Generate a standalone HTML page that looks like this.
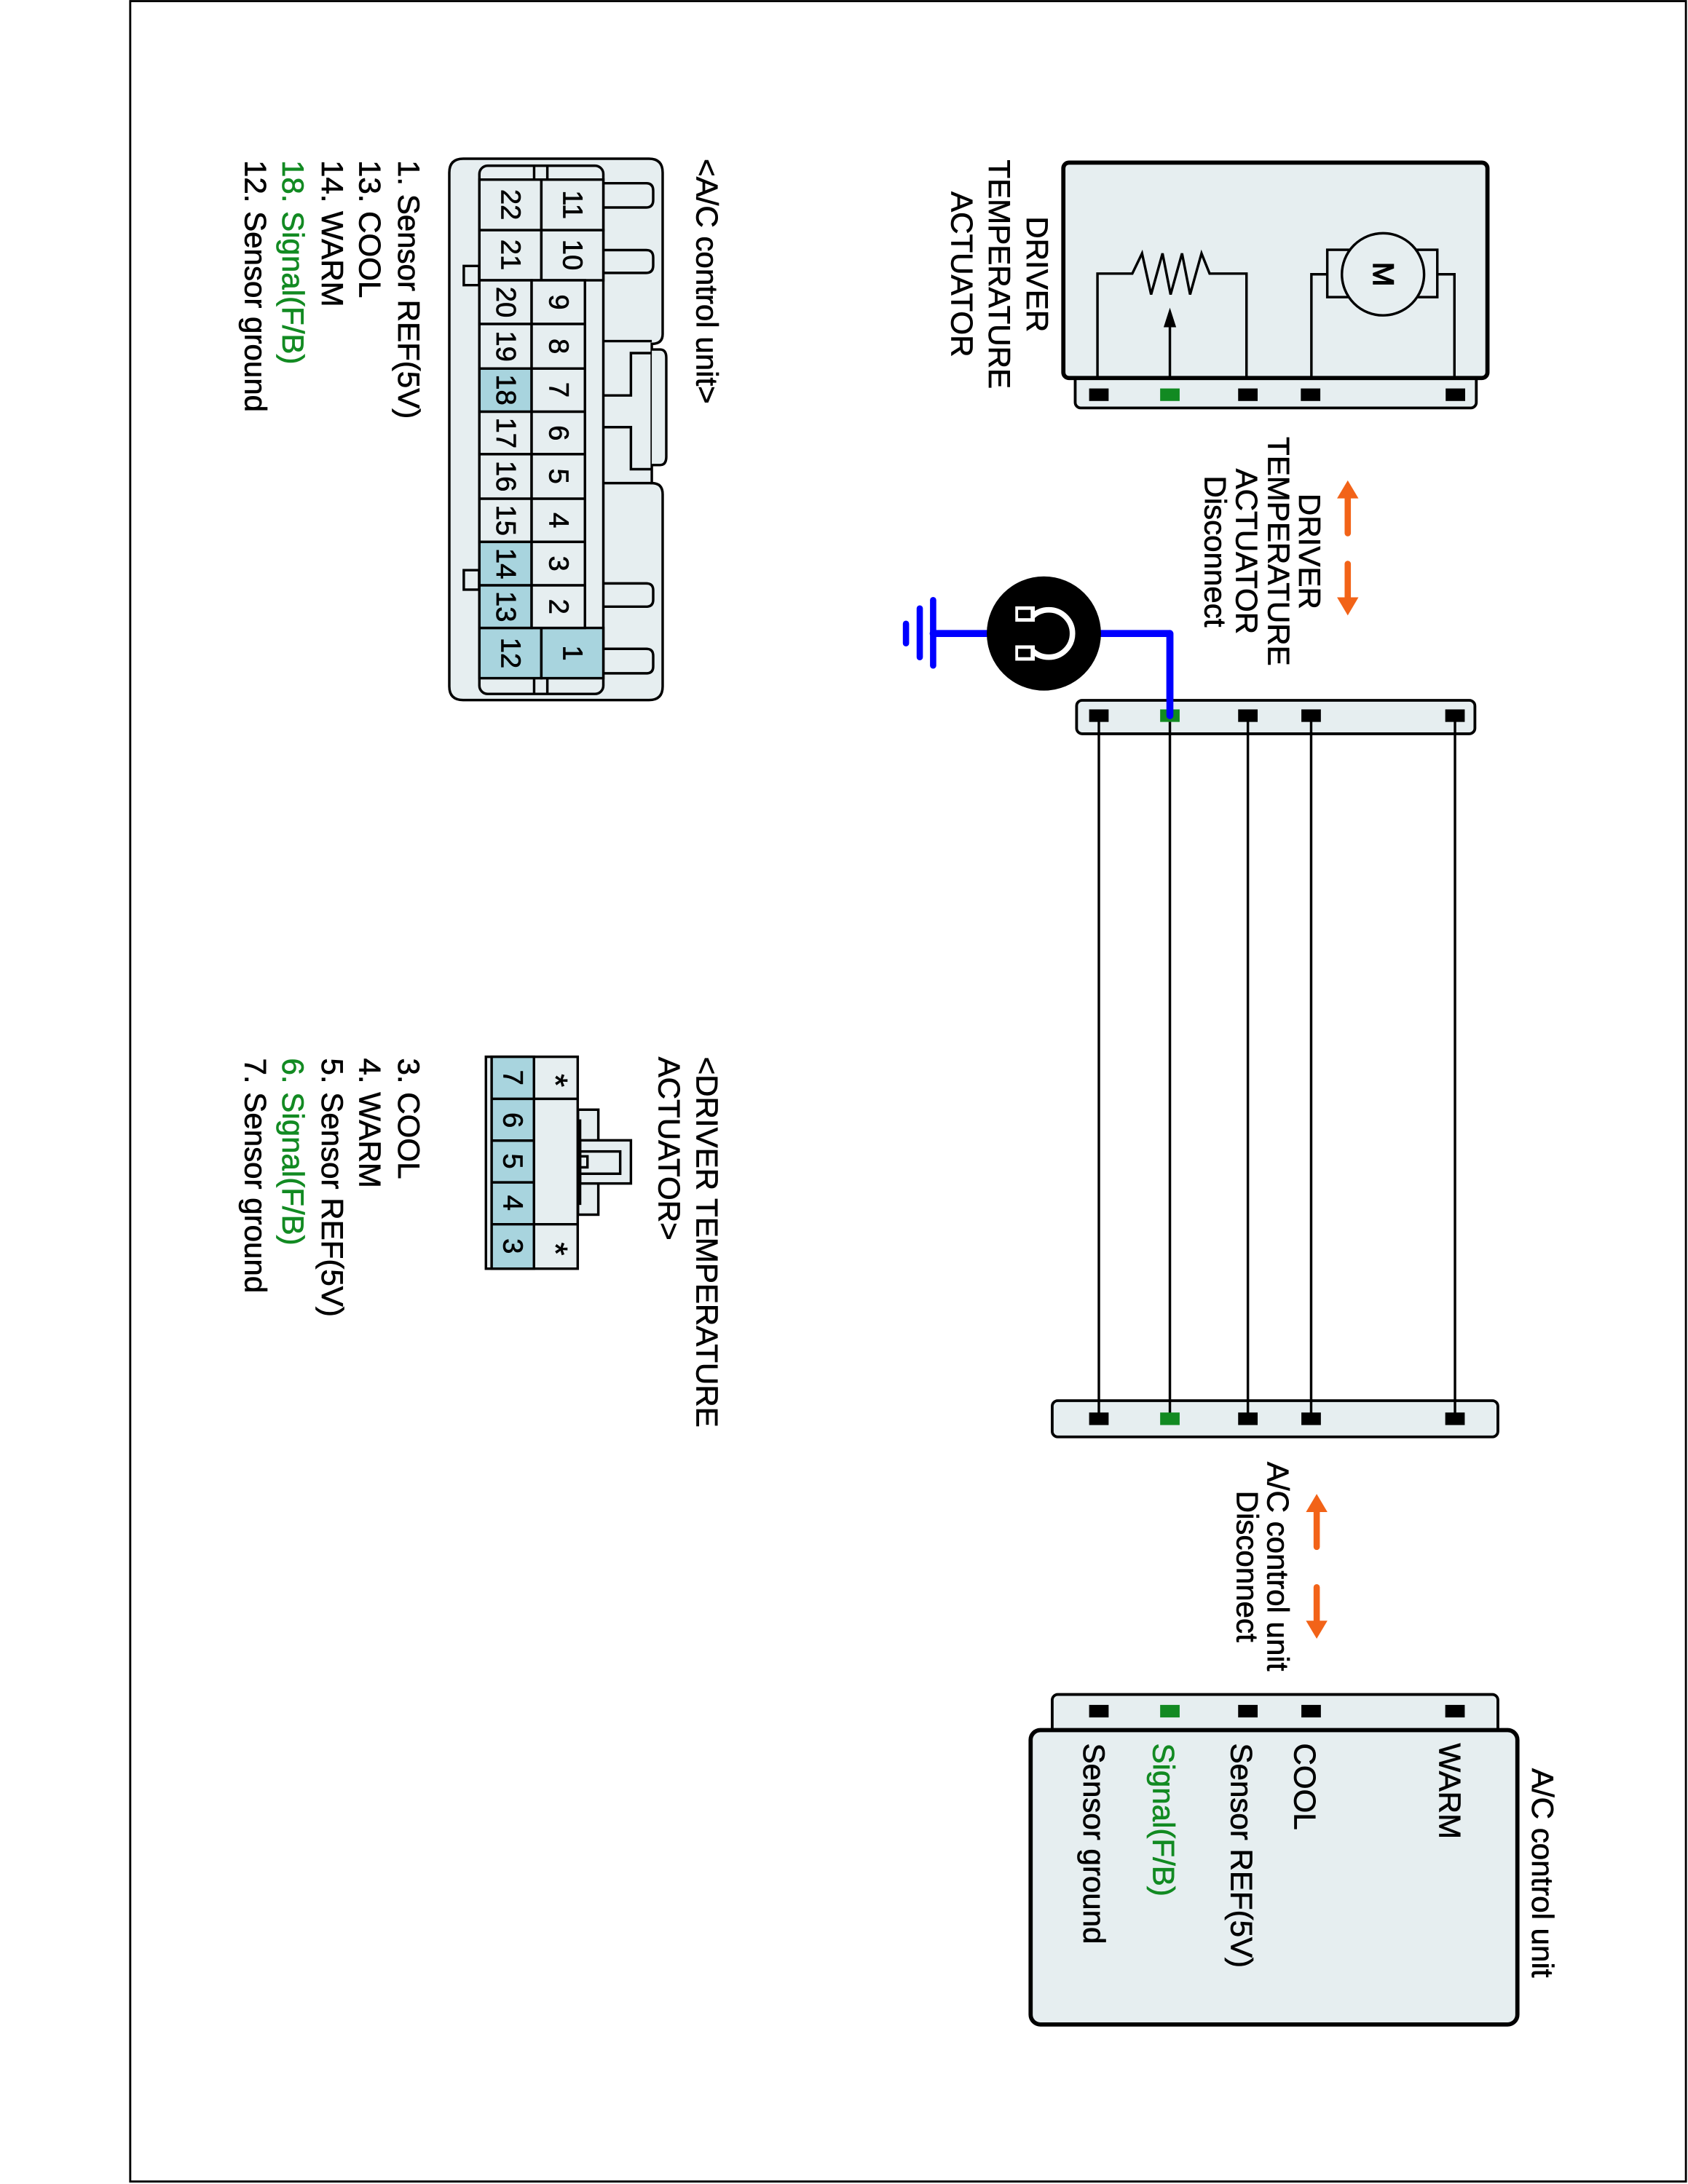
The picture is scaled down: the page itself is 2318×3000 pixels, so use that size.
<!DOCTYPE html>
<html><head><meta charset="utf-8"><style>
html,body{margin:0;padding:0;background:#fff}
svg{display:block}
text{font-family:"Liberation Sans",Arial,sans-serif;font-size:22px;fill:#000;stroke:#000;stroke-width:0.35}
.n{font-size:20px;text-anchor:middle;dominant-baseline:central}
.g{fill:#128a22;stroke:#128a22}
</style></head><body>
<svg width="2318" height="3000" viewBox="0 0 1212 1568.6" preserveAspectRatio="none" xmlns="http://www.w3.org/2000/svg">
<rect x="93.5" y="0.8" width="1117" height="1566" fill="#fff" stroke="#000" stroke-width="1.5"/>

<!-- DRIVER TEMPERATURE ACTUATOR component -->
<rect x="772" y="266" width="288" height="27" rx="4" fill="#e6eef0" stroke="#000" stroke-width="2"/>
<rect x="763.5" y="116.8" width="304.5" height="154.7" rx="4" fill="#e6eef0" stroke="#000" stroke-width="3"/>
<g fill="#000">
<rect x="782" y="279" width="14" height="9"/><rect x="833" y="279" width="14" height="9" fill="#128a22"/>
<rect x="889" y="279" width="14" height="9"/><rect x="934" y="279" width="14" height="9"/><rect x="1038" y="279" width="14" height="9"/>
</g>
<g fill="none" stroke="#000" stroke-width="1.8">
<polyline points="788,271 788,196.5 813,196.5 820,182 826.5,211.5 834.7,182 840.5,211.5 848.7,182 854.5,211.5 862.7,182 868.5,196.5 895,196.5 895,271"/>
<line x1="840" y1="271" x2="840" y2="232"/>
<polyline points="941.6,271 941.6,197 953,197"/>
<polyline points="1044.3,271 1044.3,197 1032,197"/>
<rect x="953" y="179.4" width="79" height="34" fill="#e6eef0"/>
<circle cx="993" cy="197" r="29.5" fill="#e6eef0"/>
</g>
<polygon points="840,221 835.5,235 844.5,235" fill="#000"/>
<text transform="translate(986,197) rotate(90)" text-anchor="middle" style="font-size:21px;stroke-width:0.8">M</text>
<text transform="translate(737.2,197) rotate(90)" text-anchor="middle">DRIVER</text>
<text transform="translate(710,197) rotate(90)" text-anchor="middle">TEMPERATURE</text>
<text transform="translate(683,197) rotate(90)" text-anchor="middle">ACTUATOR</text>

<!-- disconnect label 1 -->
<text transform="translate(932.7,396) rotate(90)" text-anchor="middle">DRIVER</text>
<text transform="translate(910.5,396) rotate(90)" text-anchor="middle">TEMPERATURE</text>
<text transform="translate(887.5,396) rotate(90)" text-anchor="middle">ACTUATOR</text>
<text transform="translate(865,396) rotate(90)" text-anchor="middle">Disconnect</text>
<g stroke="#f26318" stroke-width="4.5" stroke-linecap="round" fill="#f26318">
<line x1="967.7" y1="383" x2="967.7" y2="356"/><line x1="967.7" y1="405" x2="967.7" y2="432"/>
<line x1="945.4" y1="1111" x2="945.4" y2="1084"/><line x1="945.4" y1="1140" x2="945.4" y2="1167"/>
</g>
<g fill="#f26318">
<polygon points="967.7,345 960,358 975.4,358"/><polygon points="967.7,442 960,429 975.4,429"/>
<polygon points="945.4,1073 937.7,1086 953.1,1086"/><polygon points="945.4,1177 937.7,1164 953.1,1164"/>
</g>

<!-- ground / blue wire -->
<g stroke="#0000ff" stroke-linecap="round" fill="none">
<polyline points="790,455 840,455 840,514" stroke-width="5" stroke-linejoin="round"/>
<line x1="670" y1="455" x2="712" y2="455" stroke-width="5"/>
<line x1="670" y1="431" x2="670" y2="478" stroke-width="4.5"/>
<line x1="660.4" y1="437" x2="660.4" y2="472" stroke-width="4.5"/>
<line x1="650.5" y1="448" x2="650.5" y2="462" stroke-width="4.5"/>
</g>
<circle cx="749.5" cy="455" r="41" fill="#000"/>
<path d="M741,443 A17,17 0 1 1 741,467" fill="none" stroke="#fff" stroke-width="4"/>
<rect x="729" y="435.5" width="14" height="11" fill="#fff"/>
<rect x="729" y="463.5" width="14" height="11" fill="#fff"/>
<rect x="731" y="438" width="9" height="6" fill="#000"/>
<rect x="731" y="466" width="9" height="6" fill="#000"/>

<!-- middle connectors -->
<rect x="773" y="503" width="286" height="24" rx="4" fill="#e6eef0" stroke="#000" stroke-width="2"/>
<rect x="755.5" y="1006" width="320" height="26" rx="4" fill="#e6eef0" stroke="#000" stroke-width="2"/>
<g stroke="#000" stroke-width="1.8">
<line x1="789" y1="514" x2="789" y2="1019"/><line x1="896" y1="514" x2="896" y2="1019"/>
<line x1="941.4" y1="514" x2="941.4" y2="1019"/><line x1="1044.7" y1="514" x2="1044.7" y2="1019"/>
<line x1="840" y1="514" x2="840" y2="1019"/>
</g>
<g fill="#000">
<rect x="782" y="509.5" width="14" height="9"/><rect x="889" y="509.5" width="14" height="9"/><rect x="934.4" y="509.5" width="14" height="9"/><rect x="1037.7" y="509.5" width="14" height="9"/>
<rect x="833" y="509.5" width="14" height="9" fill="#128a22"/>
<rect x="782" y="1014.5" width="14" height="9"/><rect x="889" y="1014.5" width="14" height="9"/><rect x="934.4" y="1014.5" width="14" height="9"/><rect x="1037.7" y="1014.5" width="14" height="9"/>
<rect x="833" y="1014.5" width="14" height="9" fill="#128a22"/>
</g>
<line x1="840" y1="455" x2="840" y2="514" stroke="#0000ff" stroke-width="5" stroke-linecap="round"/>

<text transform="translate(910,1125) rotate(90)" text-anchor="middle">A/C control unit</text>
<text transform="translate(888,1125) rotate(90)" text-anchor="middle">Disconnect</text>

<!-- A/C control unit -->
<rect x="755.5" y="1217" width="320" height="40" rx="4" fill="#e6eef0" stroke="#000" stroke-width="2"/>
<g fill="#000">
<rect x="782" y="1224.5" width="14" height="9"/><rect x="889" y="1224.5" width="14" height="9"/><rect x="934.4" y="1224.5" width="14" height="9"/><rect x="1037.7" y="1224.5" width="14" height="9"/>
<rect x="833" y="1224.5" width="14" height="9" fill="#128a22"/>
</g>
<rect x="740" y="1242.6" width="349.5" height="211.4" rx="7" fill="#e6eef0" stroke="#000" stroke-width="3"/>
<text transform="translate(1100,1270) rotate(90)">A/C control unit</text>
<text transform="translate(1033.5,1252) rotate(90)">WARM</text>
<text transform="translate(929.5,1252) rotate(90)">COOL</text>
<text transform="translate(884,1252) rotate(90)">Sensor REF(5V)</text>
<text class="g" transform="translate(828,1252) rotate(90)">Signal(F/B)</text>
<text transform="translate(778,1252) rotate(90)">Sensor ground</text>

<!-- A/C control unit connector (left) -->
<g stroke="#000" stroke-width="1.8" fill="#e6eef0">
<path d="M322.6,124 Q322.6,114 332.6,114 L466,114 Q475.8,114 475.8,124 L475.8,240 Q475.8,247 468,247 L468,347 Q475.8,347 475.8,355 L475.8,493 Q475.8,502.8 466,502.8 L332.6,502.8 Q322.6,502.8 322.6,493 Z"/>
<path d="M468,251 L474,251 Q478.4,251 478.4,257 L478.4,328 Q478.4,334 474,334 L468,334"/>
<path d="M333,191 L344,191 L344,204.8 L333,204.8 Z"/>
<path d="M333,409.5 L344,409.5 L344,423.5 L333,423.5 Z"/>
<path d="M433,131.6 L464,131.6 Q469,131.6 469,137 L469,143.6 Q469,149 464,149 L433,149"/>
<path d="M433,179.6 L464,179.6 Q469,179.6 469,185 L469,190.6 Q469,196 464,196 L433,196"/>
<path d="M433,419 L464,419 Q469,419 469,424 L469,430.7 Q469,435.7 464,435.7 L433,435.7"/>
<path d="M433,466 L464,466 Q469,466 469,471 L469,478.6 Q469,483.6 464,483.6 L433,483.6"/>
<rect x="344.2" y="119" width="89" height="379.4" rx="6"/>
<line x1="433.2" y1="245" x2="468" y2="245"/>
<line x1="433.2" y1="347" x2="468" y2="347"/>
<polyline fill="none" points="433.2,284 453,284 453,253.6 468,253.6"/>
<polyline fill="none" points="468,337 453,337 453,306.8 433.2,306.8"/>
<line x1="383.5" y1="119" x2="383.5" y2="129"/><line x1="393" y1="119" x2="393" y2="129"/>
<line x1="383.5" y1="487.1" x2="383.5" y2="498.4"/><line x1="393" y1="487.1" x2="393" y2="498.4"/>
</g>
<g stroke="#000" stroke-width="1.8">
<rect x="344.2" y="129" width="44.5" height="36.3" fill="#e6eef0"/>
<rect x="388.7" y="129" width="44.5" height="36.3" fill="#e6eef0"/>
<rect x="344.2" y="165.3" width="44.5" height="36" fill="#e6eef0"/>
<rect x="388.7" y="165.3" width="44.5" height="36" fill="#e6eef0"/>
<rect x="344.2" y="451" width="44.5" height="36.1" fill="#a8d4de"/>
<rect x="388.7" y="451" width="44.5" height="36.1" fill="#a8d4de"/>
<line x1="420" y1="201.3" x2="420" y2="451"/>
</g>
<g stroke="#000" stroke-width="1.8">
<rect x="344.2" y="201.3" width="37.5" height="31.4" fill="#e6eef0"/><rect x="381.7" y="201.3" width="38.3" height="31.4" fill="#e6eef0"/>
<rect x="344.2" y="232.7" width="37.5" height="32" fill="#e6eef0"/><rect x="381.7" y="232.7" width="38.3" height="32" fill="#e6eef0"/>
<rect x="344.2" y="264.7" width="37.5" height="31" fill="#a8d4de"/><rect x="381.7" y="264.7" width="38.3" height="31" fill="#e6eef0"/>
<rect x="344.2" y="295.7" width="37.5" height="30.5" fill="#e6eef0"/><rect x="381.7" y="295.7" width="38.3" height="30.5" fill="#e6eef0"/>
<rect x="344.2" y="326.2" width="37.5" height="32" fill="#e6eef0"/><rect x="381.7" y="326.2" width="38.3" height="32" fill="#e6eef0"/>
<rect x="344.2" y="358.2" width="37.5" height="31" fill="#e6eef0"/><rect x="381.7" y="358.2" width="38.3" height="31" fill="#e6eef0"/>
<rect x="344.2" y="389.2" width="37.5" height="31.2" fill="#a8d4de"/><rect x="381.7" y="389.2" width="38.3" height="31.2" fill="#e6eef0"/>
<rect x="344.2" y="420.4" width="37.5" height="30.6" fill="#a8d4de"/><rect x="381.7" y="420.4" width="38.3" height="30.6" fill="#e6eef0"/>
</g>
<g>
<text class="n" transform="translate(366.5,147) rotate(90)">22</text><text class="n" transform="translate(411,147) rotate(90)">11</text>
<text class="n" transform="translate(366.5,183) rotate(90)">21</text><text class="n" transform="translate(411,183) rotate(90)">10</text>
<text class="n" transform="translate(363,217) rotate(90)">20</text><text class="n" transform="translate(401,217) rotate(90)">9</text>
<text class="n" transform="translate(363,248.7) rotate(90)">19</text><text class="n" transform="translate(401,248.7) rotate(90)">8</text>
<text class="n" transform="translate(363,280) rotate(90)">18</text><text class="n" transform="translate(401,280) rotate(90)">7</text>
<text class="n" transform="translate(363,311) rotate(90)">17</text><text class="n" transform="translate(401,311) rotate(90)">6</text>
<text class="n" transform="translate(363,342) rotate(90)">16</text><text class="n" transform="translate(401,342) rotate(90)">5</text>
<text class="n" transform="translate(363,373.7) rotate(90)">15</text><text class="n" transform="translate(401,373.7) rotate(90)">4</text>
<text class="n" transform="translate(363,404.8) rotate(90)">14</text><text class="n" transform="translate(401,404.8) rotate(90)">3</text>
<text class="n" transform="translate(363,435.7) rotate(90)">13</text><text class="n" transform="translate(401,435.7) rotate(90)">2</text>
<text class="n" transform="translate(366.5,469) rotate(90)">12</text><text class="n" transform="translate(411,469) rotate(90)">1</text>
</g>
<text transform="translate(500,114) rotate(90)">&lt;A/C control unit&gt;</text>
<text transform="translate(286,115) rotate(90)">1. Sensor REF(5V)</text>
<text transform="translate(258,115) rotate(90)">13. COOL</text>
<text transform="translate(231,115) rotate(90)">14. WARM</text>
<text class="g" transform="translate(203,115) rotate(90)">18. Signal(F/B)</text>
<text transform="translate(176,115) rotate(90)">12. Sensor ground</text>

<!-- DRIVER TEMPERATURE ACTUATOR connector (left) -->
<g stroke="#000" stroke-width="1.8" fill="#e6eef0">
<rect x="415" y="797" width="14.6" height="75.4"/>
<rect x="416.5" y="819" width="36.5" height="31"/>
<rect x="416.5" y="827" width="28.8" height="16"/>
<rect x="416.5" y="830.5" width="5.3" height="7.9"/>
<rect x="348.9" y="759" width="65.9" height="152.2"/>
<rect x="353" y="759" width="30.4" height="152.2" fill="#a8d4de"/>
<line x1="353" y1="789.2" x2="414.8" y2="789.2"/>
<line x1="353" y1="819.2" x2="383.4" y2="819.2"/>
<line x1="353" y1="849.2" x2="383.4" y2="849.2"/>
<line x1="353" y1="879.3" x2="414.8" y2="879.3"/>
</g>
<line x1="416.5" y1="804" x2="416.5" y2="865.4" stroke="#000" stroke-width="1.8"/>
<text class="n" transform="translate(368,774) rotate(90)">7</text>
<text class="n" transform="translate(368,804.5) rotate(90)">6</text>
<text class="n" transform="translate(368,834) rotate(90)">5</text>
<text class="n" transform="translate(368,864) rotate(90)">4</text>
<text class="n" transform="translate(368,895) rotate(90)">3</text>
<text class="n" transform="translate(399,776) rotate(90)" style="font-size:24px">*</text>
<text class="n" transform="translate(399,897) rotate(90)" style="font-size:24px">*</text>
<text transform="translate(500,759) rotate(90)">&lt;DRIVER TEMPERATURE</text>
<text transform="translate(473,759) rotate(90)">ACTUATOR&gt;</text>
<text transform="translate(286,760) rotate(90)">3. COOL</text>
<text transform="translate(258,760) rotate(90)">4. WARM</text>
<text transform="translate(231,760) rotate(90)">5. Sensor REF(5V)</text>
<text class="g" transform="translate(203,760) rotate(90)">6. Signal(F/B)</text>
<text transform="translate(176,760) rotate(90)">7. Sensor ground</text>
</svg>
</body></html>
